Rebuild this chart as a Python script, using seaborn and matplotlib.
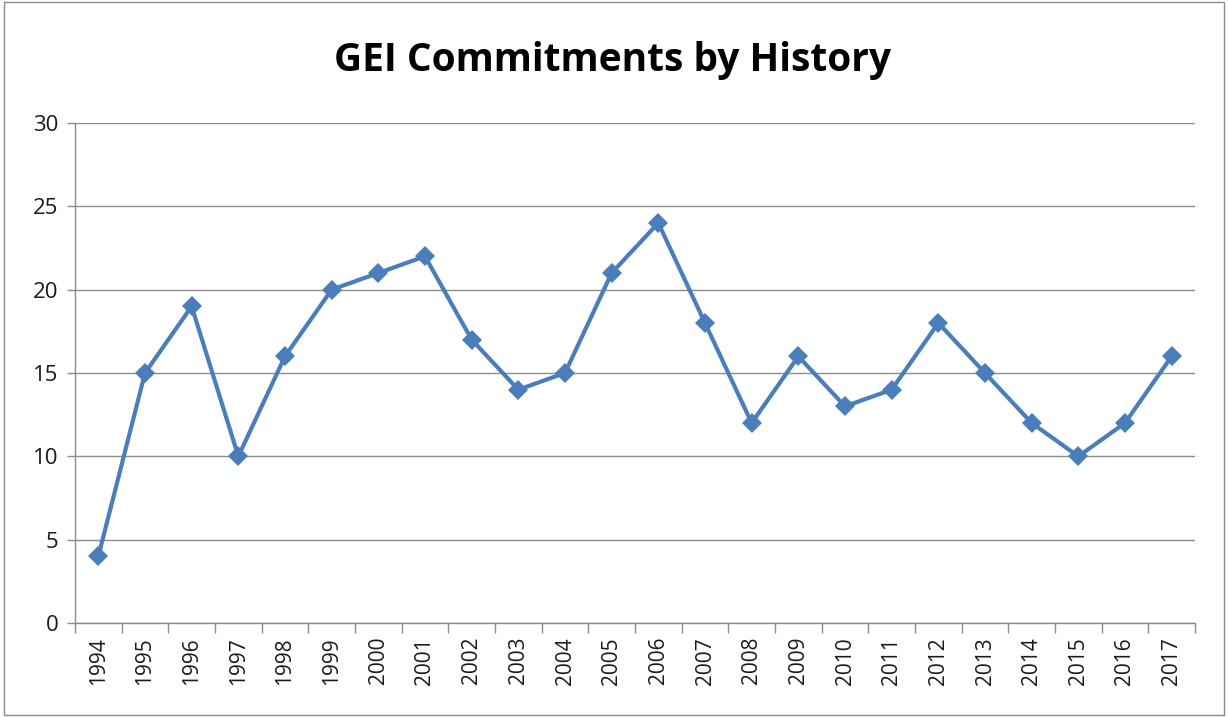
import pandas as pd
import matplotlib.pyplot as plt
import seaborn as sns
from matplotlib.patches import Rectangle

years = [str(y) for y in range(1994, 2018)]
commitments = [4, 15, 19, 10, 16, 20, 21, 22, 17, 14, 15, 21, 24, 18,
               12, 16, 13, 14, 18, 15, 12, 10, 12, 16]

df = pd.DataFrame({"Year": years, "Commitments": commitments})

sns.set_style("white")
plt.rcParams['font.family'] = ['Open Sans', 'DejaVu Sans']

fig = plt.figure(figsize=(12.28, 7.17), dpi=100)
ax = fig.add_axes([75 / 1228, 1 - 623 / 717, 1120 / 1228, 500 / 717])

pos = list(range(len(years)))
sns.lineplot(x=pos, y=df["Commitments"], ax=ax, color="#4a7ebb", linewidth=3,
             marker="D", markersize=10, markeredgewidth=0)

ax.set_xlim(-0.5, len(years) - 0.5)
ax.set_ylim(0, 30)
ax.set_yticks(range(0, 31, 5))
ax.yaxis.grid(True, color="#8c8c8c", linewidth=1)
ax.set_axisbelow(True)

ax.set_xticks(pos)
ax.set_xticklabels(years, rotation=90, fontsize=15, color="#1a1a1a")
ax.tick_params(axis="x", which="major", length=0, pad=10)
ax.set_xticks([p - 0.5 for p in pos] + [len(years) - 0.5], minor=True)
ax.tick_params(axis="x", which="minor", length=7, color="#8c8c8c", width=1, direction="out")
ax.tick_params(axis="y", labelsize=16, labelcolor="#1a1a1a", length=6, color="#8c8c8c",
               width=1, direction="out", pad=6)
ax.xaxis.set_ticks_position("bottom")
ax.yaxis.set_ticks_position("left")

for s in ["top", "right"]:
    ax.spines[s].set_visible(False)
for s in ["left", "bottom"]:
    ax.spines[s].set_color("#8c8c8c")
    ax.spines[s].set_linewidth(1)

ax.set_xlabel("")
ax.set_ylabel("")
fig.text(612 / 1228, 1 - 60 / 717, "GEI Commitments by History", ha="center", va="center",
         fontsize=28, fontweight="bold", color="black")

fig.patches.append(Rectangle((0.003, 0.003), 0.994, 0.994, transform=fig.transFigure,
                             fill=False, edgecolor="#8c8c8c", linewidth=1))

fig.savefig("out.png", dpi=100)
